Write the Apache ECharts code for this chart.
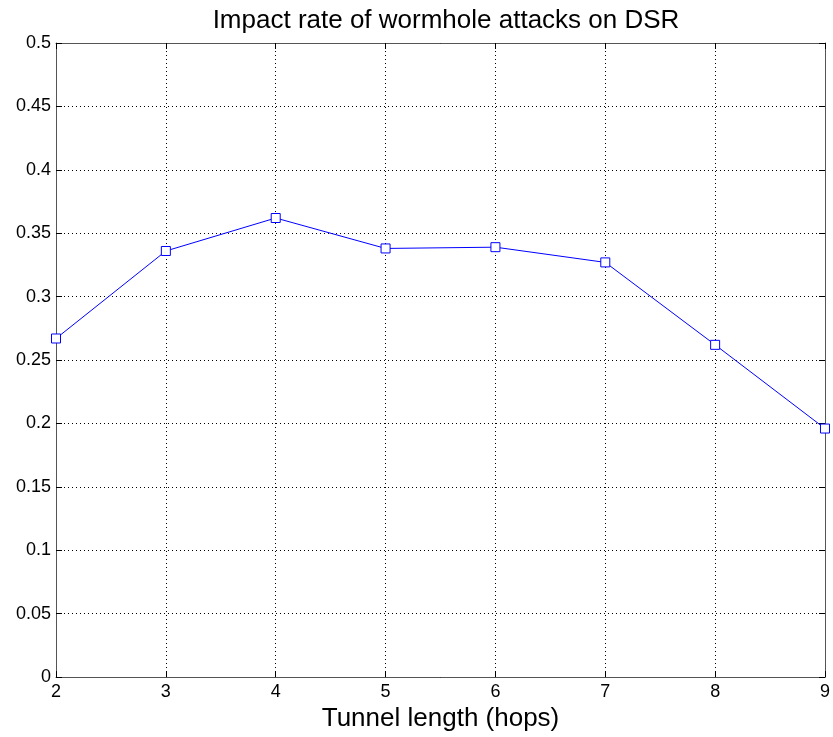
<!DOCTYPE html>
<html>
<head>
<meta charset="utf-8">
<script src="https://cdn.jsdelivr.net/npm/echarts@6/dist/echarts.min.js"></script>
<style>
  body { margin: 0; background: #fff; }
  #chart { width: 833px; height: 737px; }
</style>
</head>
<body>
<div id="chart"></div>
<script>
// tunnel length (hops)
var hops = [2, 3, 4, 5, 6, 7, 8, 9];
// impact rate
var impactRate = [0.267, 0.336, 0.362, 0.338, 0.339, 0.327, 0.262, 0.196];

var points = [];
for (var i = 0; i < hops.length; i++) {
  points.push([hops[i], impactRate[i]]);
}

var font = "Liberation Sans, Arial, sans-serif";
var gridLine = { show: true, lineStyle: { color: "#000", type: [1, 3], width: 1 } };
var boxLine = { show: true, onZero: false, lineStyle: { color: "#555", width: 1 } };

var option = {
  backgroundColor: "#fff",
  animation: false,
  title: {
    text: "Impact rate of wormhole attacks on DSR",
    left: 441,
    textAlign: "center",
    top: 3,
    textStyle: { fontFamily: font, fontSize: 26, fontWeight: "normal", color: "#000" }
  },
  grid: { left: 56, right: 7, top: 43, bottom: 58 },
  xAxis: [
    {
      type: "value", min: 2, max: 9, interval: 1, position: "bottom",
      name: "Tunnel length (hops)", nameLocation: "middle", nameGap: 26,
      nameTextStyle: { fontFamily: font, fontSize: 26, color: "#000" },
      axisLine: boxLine,
      axisTick: { show: true, inside: true, length: 6, lineStyle: { color: "#000" } },
      axisLabel: { fontFamily: font, fontSize: 18, color: "#000", margin: 6 },
      splitLine: gridLine
    },
    {
      type: "value", min: 2, max: 9, interval: 1, position: "top",
      axisLine: boxLine,
      axisTick: { show: true, inside: true, length: 6, lineStyle: { color: "#000" } },
      axisLabel: { show: false },
      splitLine: { show: false }
    }
  ],
  yAxis: [
    {
      type: "value", min: 0, max: 0.5, interval: 0.05, position: "left",
      axisLine: boxLine,
      axisTick: { show: true, inside: true, length: 6, lineStyle: { color: "#000" } },
      axisLabel: {
        fontFamily: font, fontSize: 18, color: "#000", margin: 5,
        formatter: function (v) { return String(Math.round(v * 100) / 100); }
      },
      splitLine: gridLine
    },
    {
      type: "value", min: 0, max: 0.5, interval: 0.05, position: "right",
      axisLine: boxLine,
      axisTick: { show: true, inside: true, length: 6, lineStyle: { color: "#000" } },
      axisLabel: { show: false },
      splitLine: { show: false }
    }
  ],
  series: [
    {
      type: "line",
      data: points,
      symbol: "rect",
      symbolSize: 9,
      itemStyle: { color: "#fff", borderColor: "#0000ff", borderWidth: 1 },
      lineStyle: { color: "#0000ff", width: 1 },
      z: 5
    }
  ]
};

var myChart = echarts.init(document.getElementById("chart"));
myChart.setOption(option);
</script>
</body>
</html>
